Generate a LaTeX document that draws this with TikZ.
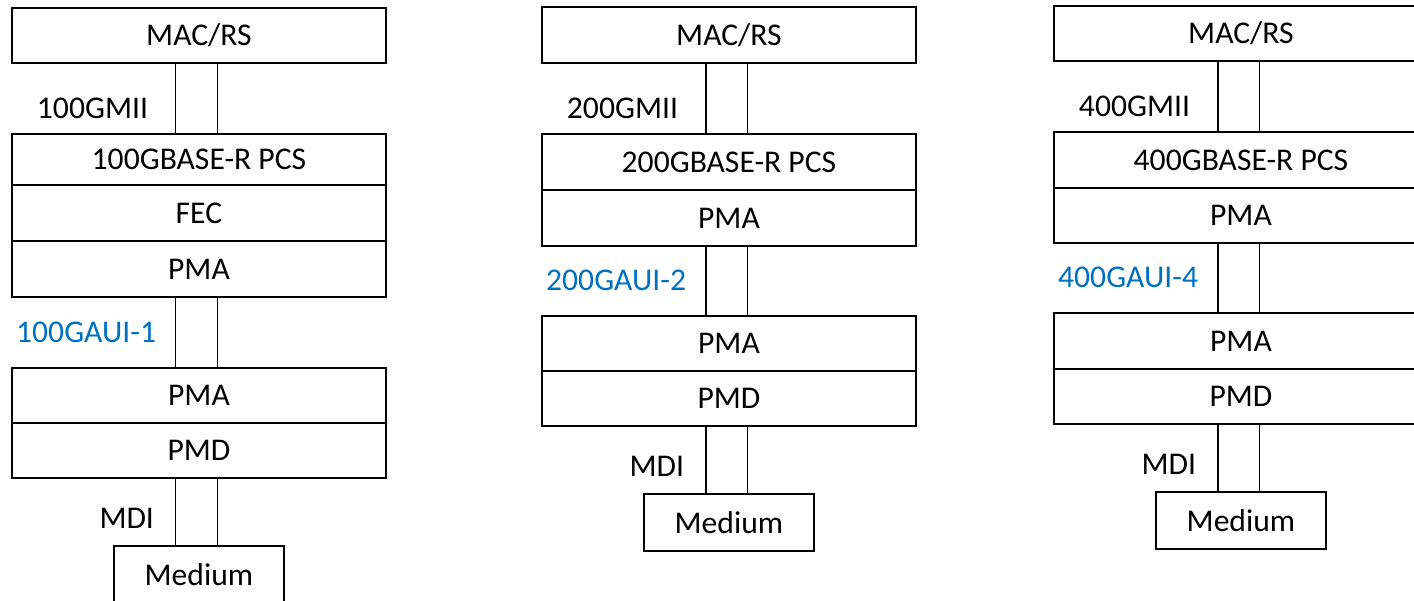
\documentclass[tikz,border=0pt]{standalone}
\usepackage{fontspec}
\setmainfont{Carlito}
\usetikzlibrary{positioning}
\definecolor{auiblue}{RGB}{0,112,192}
\tikzset{
% Layer boxes and the lines between them
layer/.style={rectangle, draw=black, line width=1.2pt, align=center,
  minimum width=7.48cm, minimum height=1.12cm},
medium/.style={layer, minimum width=3.4cm, minimum height=1.14cm},
link/.style={draw=black, line width=0.6pt},
lbl/.style={anchor=base east},
}

\begin{document}
\begin{tikzpicture}[x=0.02cm, y=-0.02cm, inner sep=0, outer sep=0,
    font=\fontsize{18}{21}\selectfont]
  \clip (0,0) rectangle (1414,601);

  % 100G
  \node[layer, anchor=north west, minimum height=1.1cm] (mac1) at (12,8) {MAC/RS};
  \node[layer, minimum height=1.02cm, below=1.42cm of mac1] (pcs1) {100GBASE-R PCS};
  \node[layer, below=0cm of pcs1] (fec1) {FEC};
  \node[layer, below=0cm of fec1] (pma1) {PMA};
  \node[layer, minimum height=1.1cm, below=1.42cm of pma1] (pmb1) {PMA};
  \node[layer, minimum height=1.1cm, below=0cm of pmb1] (pmd1) {PMD};
  \node[medium, below=1.36cm of pmd1] (med1) {Medium};

  \draw[link] ([xshift=-0.46cm]mac1.south) -- ([xshift=-0.46cm]pcs1.north);
  \draw[link] ([xshift=0.37cm]mac1.south) -- ([xshift=0.37cm]pcs1.north);
  \draw[link] ([xshift=-0.46cm]pma1.south) -- ([xshift=-0.46cm]pmb1.north);
  \draw[link] ([xshift=0.37cm]pma1.south) -- ([xshift=0.37cm]pmb1.north);
  \draw[link] ([xshift=-0.46cm]pmd1.south) -- ([xshift=-0.46cm]med1.north);
  \draw[link] ([xshift=0.37cm]pmd1.south) -- ([xshift=0.37cm]med1.north);

  \node[lbl] (mii1) at ([xshift=-1.02cm, yshift=0.3cm]pcs1.north) {100GMII};
  \node[lbl, text=auiblue] (aui1) at ([xshift=-0.86cm, yshift=0.5cm]pmb1.north) {100GAUI-1};
  \node[lbl] (mdi1) at ([xshift=-0.9cm, yshift=0.35cm]med1.north) {MDI};

  % 200G
  \node[layer, anchor=north west] (mac2) at (542,7) {MAC/RS};
  \node[layer, below=1.42cm of mac2] (pcs2) {200GBASE-R PCS};
  \node[layer, below=0cm of pcs2] (pma2) {PMA};
  \node[layer, minimum height=1.1cm, below=1.4cm of pma2] (pmb2) {PMA};
  \node[layer, minimum height=1.1cm, below=0cm of pmb2] (pmd2) {PMD};
  \node[medium, below=1.36cm of pmd2] (med2) {Medium};

  \draw[link] ([xshift=-0.46cm]mac2.south) -- ([xshift=-0.46cm]pcs2.north);
  \draw[link] ([xshift=0.37cm]mac2.south) -- ([xshift=0.37cm]pcs2.north);
  \draw[link] ([xshift=-0.46cm]pma2.south) -- ([xshift=-0.46cm]pmb2.north);
  \draw[link] ([xshift=0.37cm]pma2.south) -- ([xshift=0.37cm]pmb2.north);
  \draw[link] ([xshift=-0.46cm]pmd2.south) -- ([xshift=-0.46cm]med2.north);
  \draw[link] ([xshift=0.37cm]pmd2.south) -- ([xshift=0.37cm]med2.north);

  \node[lbl] (mii2) at ([xshift=-1.02cm, yshift=0.3cm]pcs2.north) {200GMII};
  \node[lbl, text=auiblue] (aui2) at ([xshift=-0.86cm, yshift=0.5cm]pmb2.north) {200GAUI-2};
  \node[lbl] (mdi2) at ([xshift=-0.9cm, yshift=0.35cm]med2.north) {MDI};

  % 400G
  \node[layer, anchor=north west, minimum height=1.1cm] (mac3) at (1054,6) {MAC/RS};
  \node[layer, below=1.42cm of mac3] (pcs3) {400GBASE-R PCS};
  \node[layer, minimum height=1.1cm, below=0cm of pcs3] (pma3) {PMA};
  \node[layer, below=1.4cm of pma3] (pmb3) {PMA};
  \node[layer, minimum height=1.1cm, below=0cm of pmb3] (pmd3) {PMD};
  \node[medium, below=1.36cm of pmd3] (med3) {Medium};

  \draw[link] ([xshift=-0.46cm]mac3.south) -- ([xshift=-0.46cm]pcs3.north);
  \draw[link] ([xshift=0.37cm]mac3.south) -- ([xshift=0.37cm]pcs3.north);
  \draw[link] ([xshift=-0.46cm]pma3.south) -- ([xshift=-0.46cm]pmb3.north);
  \draw[link] ([xshift=0.37cm]pma3.south) -- ([xshift=0.37cm]pmb3.north);
  \draw[link] ([xshift=-0.46cm]pmd3.south) -- ([xshift=-0.46cm]med3.north);
  \draw[link] ([xshift=0.37cm]pmd3.south) -- ([xshift=0.37cm]med3.north);

  \node[lbl] (mii3) at ([xshift=-1.02cm, yshift=0.3cm]pcs3.north) {400GMII};
  \node[lbl, text=auiblue] (aui3) at ([xshift=-0.86cm, yshift=0.5cm]pmb3.north) {400GAUI-4};
  \node[lbl] (mdi3) at ([xshift=-0.9cm, yshift=0.35cm]med3.north) {MDI};
\end{tikzpicture}
\end{document}
